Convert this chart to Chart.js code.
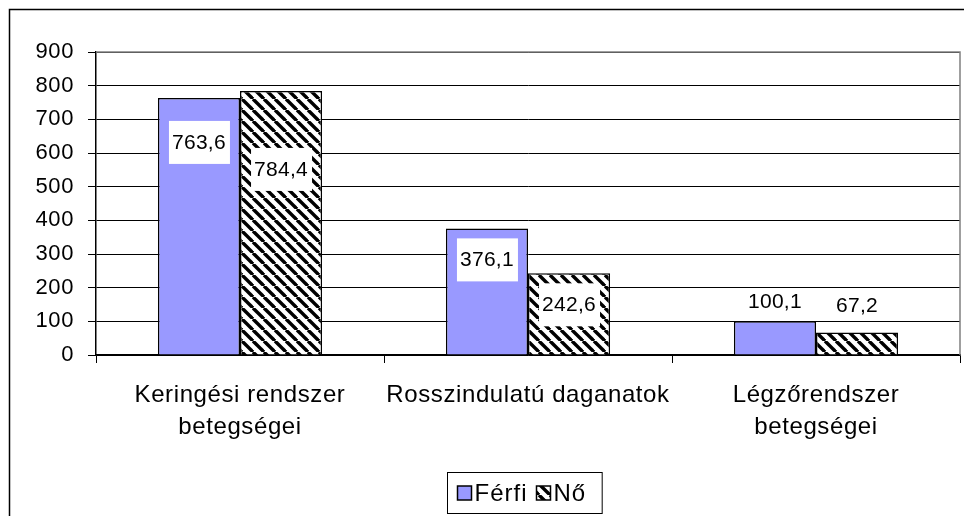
<!DOCTYPE html>
<html>
<head>
<meta charset="utf-8">
<script src="https://cdn.jsdelivr.net/npm/chart.js@4"></script>
<style>
  body { margin: 0; background: #fff; }
  canvas { display: block; }
</style>
</head>
<body>
<canvas id="chart1" width="964" height="516"></canvas>
<script>
const categories = [['Keringési rendszer', 'betegségei'], 'Rosszindulatú daganatok', ['Légzőrendszer', 'betegségei']];
const seriesNames = ['Férfi', 'Nő'];
const ferfi = [763.6, 376.1, 100.1];
const no = [784.4, 242.6, 67.2];
const yTicks = [0, 100, 200, 300, 400, 500, 600, 700, 800, 900];

// label centre, pixels below the bar top (negative = above)
const labelShift = [[44, 31, -20], [78, 31, -27]];

const FONT = '"Liberation Sans", Arial, sans-serif';
const SPACING = '0.6px';

function hatch() {
    const s = 11;
    const c = document.createElement('canvas');
    c.width = s; c.height = s;
    const g = c.getContext('2d');
    g.fillStyle = '#fff';
    g.fillRect(0, 0, s, s);
    g.strokeStyle = '#000';
    g.lineWidth = 3.4;
    for (const x of [-s, 0, s]) {
        g.beginPath();
        g.moveTo(x, 0);
        g.lineTo(x + s, s);
        g.stroke();
    }
    return g.createPattern(c, 'repeat');
}
const stripes = hatch();

const extras = {
    id: 'extras',
    beforeLayout(chart) {
        chart.ctx.letterSpacing = SPACING;
    },
    beforeDraw(chart) {
        const ctx = chart.ctx;
        ctx.letterSpacing = SPACING;
        ctx.save();
        ctx.strokeStyle = '#000';
        ctx.lineWidth = 1.5;
        ctx.strokeRect(9.5, 9.5, 2000, 2000);
        ctx.restore();
    },
    beforeDatasetsDraw(chart) {
        const a = chart.chartArea, ctx = chart.ctx;
        ctx.save();
        ctx.strokeStyle = '#808080';
        ctx.lineWidth = 1.5;
        ctx.beginPath();
        ctx.moveTo(a.left, a.top);
        ctx.lineTo(a.right, a.top);
        ctx.lineTo(a.right, a.bottom);
        ctx.stroke();
        ctx.restore();
    },
    afterDatasetsDraw(chart) {
        const ctx = chart.ctx;
        ctx.save();
        ctx.font = '21px ' + FONT;
        ctx.letterSpacing = '0.3px';
        ctx.textAlign = 'center';
        ctx.textBaseline = 'middle';
        chart.data.datasets.forEach((ds, i) => {
            chart.getDatasetMeta(i).data.forEach((bar, j) => {
                const cy = bar.y + labelShift[i][j];
                if (labelShift[i][j] > 0) {
                    ctx.fillStyle = '#fff';
                    ctx.fillRect(bar.x - 30, cy - 21, 61, 43);
                }
                ctx.fillStyle = '#000';
                ctx.fillText(ds.data[j].toFixed(1).replace('.', ','), bar.x, cy + 1);
            });
        });
        ctx.restore();
    },
    afterDraw(chart) {
        // legend with a frame, centred under the plot
        const ctx = chart.ctx, a = chart.chartArea;
        ctx.save();
        ctx.font = '24px ' + FONT;
        ctx.letterSpacing = '1px';
        ctx.textBaseline = 'middle';
        const box = 14, gap = 3, itemGap = 9, padX = 10;
        const widths = chart.data.datasets.map(d => box + gap + ctx.measureText(d.label).width);
        const total = widths.reduce((p, q) => p + q, 0) + itemGap * (widths.length - 1) + padX * 2 + 6;
        const left = Math.round((a.left + a.right) / 2 - total / 2) - 3.5;
        const top = 472.5, h = 41, cy = top + h / 2;
        ctx.fillStyle = '#fff';
        ctx.fillRect(left, top, total, h);
        ctx.strokeStyle = '#000';
        ctx.lineWidth = 1;
        ctx.strokeRect(left, top, total, h);
        let x = left + padX;
        chart.data.datasets.forEach((d, i) => {
            ctx.fillStyle = d.backgroundColor;
            ctx.fillRect(x, cy - box / 2, box, box);
            ctx.lineWidth = 1.5;
            ctx.strokeRect(x, cy - box / 2, box, box);
            ctx.fillStyle = '#000';
            ctx.fillText(d.label, x + box + gap, cy + 1);
            x += widths[i] + itemGap;
        });
        ctx.restore();
    }
};

const ctx = document.getElementById('chart1').getContext('2d');
const chart1 = new Chart(ctx, {
    type: 'bar',
    data: {
        labels: categories,
        datasets: [
            {
                label: seriesNames[0],
                data: ferfi,
                backgroundColor: '#9999FF',
                borderColor: '#000',
                borderWidth: 1.5,
                categoryPercentage: 0.57,
                barPercentage: 1.0
            },
            {
                label: seriesNames[1],
                data: no,
                backgroundColor: stripes,
                borderColor: '#000',
                borderWidth: 1.5,
                categoryPercentage: 0.57,
                barPercentage: 1.0
            }
        ]
    },
    options: {
        responsive: false,
        animation: false,
        layout: { padding: { left: 10, top: 52, right: 4, bottom: 0 } },
        scales: {
            x: {
                grid: {
                    offset: true,
                    drawOnChartArea: false,
                    color: '#000',
                    tickLength: 8
                },
                border: { color: '#000', width: 1.5 },
                ticks: {
                    color: '#000',
                    padding: 16,
                    maxRotation: 0,
                    autoSkip: false,
                    font: { family: FONT, size: 24, lineHeight: 1.35 }
                },
                afterFit(scale) { scale.height = 161; }
            },
            y: {
                min: 0,
                max: 900,
                afterBuildTicks(scale) { scale.ticks = yTicks.map(v => ({ value: v })); },
                grid: { color: '#000', tickLength: 8 },
                border: { color: '#000', width: 1.5 },
                ticks: {
                    color: '#000',
                    padding: 14,
                    font: { family: FONT, size: 22 }
                },
                afterFit(scale) { scale.width = 86; }
            }
        },
        plugins: {
            legend: { display: false },
            tooltip: { enabled: false }
        }
    },
    plugins: [extras]
});
</script>
</body>
</html>
